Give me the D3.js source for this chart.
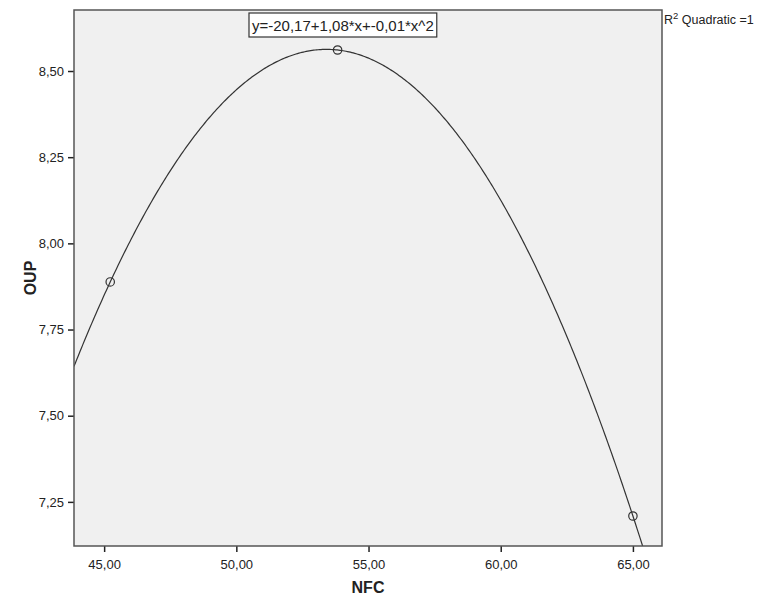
<!DOCTYPE html>
<html>
<head>
<meta charset="utf-8">
<script src="https://cdnjs.cloudflare.com/ajax/libs/d3/7.8.5/d3.min.js"></script>
<style>
  body { margin: 0; background: #fff; }
  svg text { font-family: "Liberation Sans", Arial, sans-serif; fill: #222; }
</style>
</head>
<body>
<svg id="chart" width="760" height="600"></svg>
<script>
// observed points
var nfc = [45.23, 53.83, 65.0];
var oup = [7.888, 8.561, 7.209];
var xTicks = [45, 50, 55, 60, 65];
var yTicks = [7.25, 7.5, 7.75, 8.0, 8.25, 8.5];
var eqLabel = "y=-20,17+1,08*x+-0,01*x^2";

var margin = {left: 74, top: 10, right: 98, bottom: 54};
var W = 760, H = 600;
var svg = d3.select("#chart");

var x = d3.scaleLinear().domain([43.86, 66.1]).range([margin.left, W - margin.right]);
var y = d3.scaleLinear().domain([7.122, 8.677]).range([H - margin.bottom, margin.top]);

var comma = function(d) { return d3.format(".2f")(d).replace(".", ","); };

// quadratic through the three points (least squares = exact here)
function fitQuad(xs, ys) {
  var n = xs.length, S = [0,0,0,0,0], T = [0,0,0];
  for (var i = 0; i < n; i++) {
    for (var k = 0; k < 5; k++) S[k] += Math.pow(xs[i], k);
    for (var k = 0; k < 3; k++) T[k] += ys[i] * Math.pow(xs[i], k);
  }
  var A = [[S[0],S[1],S[2],T[0]],[S[1],S[2],S[3],T[1]],[S[2],S[3],S[4],T[2]]];
  for (var c = 0; c < 3; c++) {
    for (var r = c + 1; r < 3; r++) {
      var f = A[r][c] / A[c][c];
      for (var j = c; j < 4; j++) A[r][j] -= f * A[c][j];
    }
  }
  var b = [0,0,0];
  for (var r = 2; r >= 0; r--) {
    var s = A[r][3];
    for (var j = r + 1; j < 3; j++) s -= A[r][j] * b[j];
    b[r] = s / A[r][r];
  }
  return b;
}
var coef = fitQuad(nfc, oup);

svg.append("defs").append("clipPath").attr("id", "clip")
  .append("rect")
  .attr("x", x.range()[0]).attr("y", y.range()[1])
  .attr("width", x.range()[1] - x.range()[0])
  .attr("height", y.range()[0] - y.range()[1]);

svg.append("rect")
  .attr("x", x.range()[0]).attr("y", y.range()[1])
  .attr("width", x.range()[1] - x.range()[0])
  .attr("height", y.range()[0] - y.range()[1])
  .attr("fill", "#f0f0f0");

// axes
var xAxis = svg.append("g")
  .attr("transform", "translate(0," + y.range()[0] + ")")
  .call(d3.axisBottom(x).tickValues(xTicks).tickFormat(comma).tickSize(6).tickSizeOuter(0));
var yAxis = svg.append("g")
  .attr("transform", "translate(" + x.range()[0] + ",0)")
  .call(d3.axisLeft(y).tickValues(yTicks).tickFormat(comma).tickSize(6).tickSizeOuter(0));
[xAxis, yAxis].forEach(function(g) {
  g.select(".domain").remove();
  g.selectAll(".tick line").attr("stroke", "#222").attr("stroke-width", 1.5);
  g.selectAll("text").style("font-size", "13px").attr("fill", "#222");
});
xAxis.selectAll("text").attr("dy", "1.05em");
yAxis.selectAll("text").attr("dx", "-1px");

// curve
var xs = d3.range(0, 401).map(function(i) {
  return x.domain()[0] + (x.domain()[1] - x.domain()[0]) * i / 400;
});
var line = d3.line()
  .x(function(d) { return x(d); })
  .y(function(d) { return y(coef[0] + coef[1] * d + coef[2] * d * d); });
svg.append("path")
  .datum(xs)
  .attr("clip-path", "url(#clip)")
  .attr("d", line)
  .attr("fill", "none")
  .attr("stroke", "#333")
  .attr("stroke-width", 1.2);

svg.selectAll("circle.pt")
  .data(nfc)
  .enter().append("circle")
  .attr("class", "pt")
  .attr("cx", function(d) { return x(d); })
  .attr("cy", function(d, i) { return y(oup[i]); })
  .attr("r", 4.2)
  .attr("fill", "none")
  .attr("stroke", "#333")
  .attr("stroke-width", 1.2);

// frame
svg.append("rect")
  .attr("x", x.range()[0]).attr("y", y.range()[1])
  .attr("width", x.range()[1] - x.range()[0])
  .attr("height", y.range()[0] - y.range()[1])
  .attr("fill", "none")
  .attr("stroke", "#555")
  .attr("stroke-width", 1.5);

// equation box
var eq = svg.append("g");
var eqText = eq.append("text")
  .attr("x", 252).attr("y", 31)
  .style("font-size", "15px")
  .attr("fill", "#111")
  .text(eqLabel);
var bb = eqText.node().getBBox();
eq.insert("rect", "text")
  .attr("x", bb.x - 3).attr("y", 13)
  .attr("width", bb.width + 6).attr("height", 24)
  .attr("fill", "#fff")
  .attr("stroke", "#333")
  .attr("stroke-width", 1.2);

// R2 note
var r2 = svg.append("text")
  .attr("x", 664).attr("y", 24)
  .style("font-size", "12.5px")
  .attr("fill", "#111");
r2.append("tspan").text("R");
r2.append("tspan").attr("dy", -5).style("font-size", "9.5px").text("2");
r2.append("tspan").attr("dy", 5).text(" Quadratic =1");

// axis titles
svg.append("text")
  .attr("x", (x.range()[0] + x.range()[1]) / 2)
  .attr("y", 593)
  .attr("text-anchor", "middle")
  .style("font-size", "16px")
  .style("font-weight", "bold")
  .text("NFC");
svg.append("text")
  .attr("transform", "translate(36," + ((y.range()[0] + y.range()[1]) / 2) + ") rotate(-90)")
  .attr("text-anchor", "middle")
  .style("font-size", "16px")
  .style("font-weight", "bold")
  .text("OUP");
</script>
</body>
</html>
